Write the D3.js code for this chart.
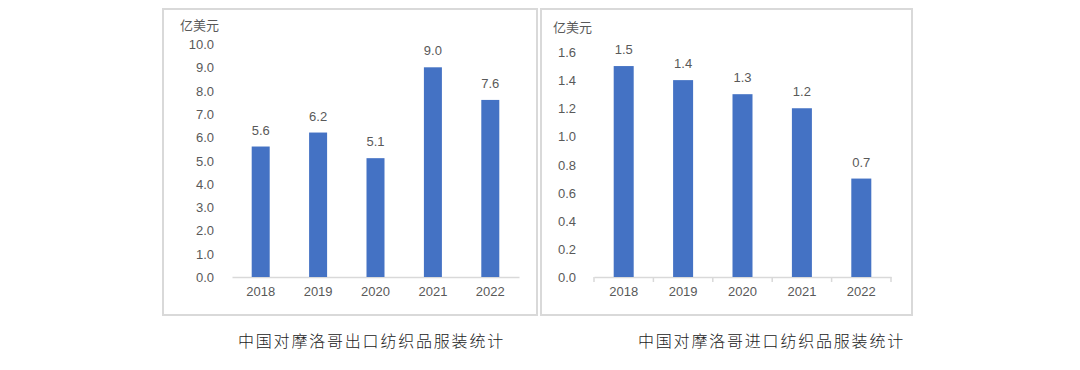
<!DOCTYPE html>
<html lang="zh">
<head>
<meta charset="UTF-8" />
<title>中国对摩洛哥纺织品服装统计</title>
<script src="https://d3js.org/d3.v7.min.js"></script>
<style>
  body { margin: 0; background: #fff; }
  text { font-family: "Liberation Sans", "Noto Sans CJK SC", sans-serif; }
  .cap { font-family: "Noto Sans CJK SC", sans-serif; font-weight: 300; }
</style>
</head>
<body>
<svg width="1080" height="370"></svg>
<script>
var years = ["2018", "2019", "2020", "2021", "2022"];
var exportVals = [5.6, 6.2, 5.1, 9.0, 7.6];
var importVals = [1.5, 1.4, 1.3, 1.2, 0.7];
var exportTicks = [0, 1, 2, 3, 4, 5, 6, 7, 8, 9, 10];
var importTicks = [0, 0.2, 0.4, 0.6, 0.8, 1.0, 1.2, 1.4, 1.6];
var unit = "亿美元";
var captions = ["中国对摩洛哥出口纺织品服装统计", "中国对摩洛哥进口纺织品服装统计"];

var svg = d3.select("svg");
var grey = "#595959", blue = "#4472c4";

function drawChart(opt) {
  // outer frame
  svg.append("rect")
    .attr("x", opt.box[0]).attr("y", 9)
    .attr("width", opt.box[1] - opt.box[0]).attr("height", 306)
    .attr("fill", "none").attr("stroke", "#d9d9d9").attr("stroke-width", 2);

  var x = d3.scaleBand().domain(years).range([opt.x0, opt.x1]).paddingInner(opt.pad).paddingOuter(opt.pad / 2);
  var y = d3.scaleLinear().domain([0, opt.max]).range([277, opt.yTop]);

  var g = svg.append("g");

  g.append("g")
    .attr("transform", "translate(" + (opt.x0 - 15) + ",0)")
    .call(d3.axisLeft(y).tickValues(opt.ticks).tickFormat(d3.format(".1f")).tickSize(0))
    .call(a => a.select(".domain").remove())
    .selectAll("text").attr("fill", grey).attr("font-size", 13).attr("dy", "0.35em");

  var xa = g.append("g")
    .attr("transform", "translate(0,277)")
    .call(d3.axisBottom(x).tickSize(0).tickPadding(10));
  xa.select(".domain").attr("stroke", "#d9d9d9").attr("stroke-width", 1.5);
  xa.selectAll("text").attr("fill", grey).attr("font-size", 13);

  if (opt.sepTicks) {
    var step = (opt.x1 - opt.x0) / years.length;
    g.selectAll(".sep").data(d3.range(years.length + 1)).enter().append("line")
      .attr("x1", i => opt.x0 + i * step).attr("x2", i => opt.x0 + i * step)
      .attr("y1", 277).attr("y2", 282)
      .attr("stroke", "#d9d9d9").attr("stroke-width", 1.5);
  }

  g.selectAll(".bar").data(opt.vals).enter().append("rect")
    .attr("x", (d, i) => x(years[i]) + (x.bandwidth() - opt.bw) / 2)
    .attr("y", d => y(d))
    .attr("width", opt.bw)
    .attr("height", d => 277 - y(d))
    .attr("fill", blue);

  g.selectAll(".lbl").data(opt.vals).enter().append("text")
    .attr("x", (d, i) => x(years[i]) + x.bandwidth() / 2)
    .attr("y", d => y(d) - 12)
    .attr("text-anchor", "middle")
    .attr("fill", grey).attr("font-size", 13)
    .text(d => d.toFixed(1));

  g.append("text")
    .attr("x", opt.unitX).attr("y", opt.unitY)
    .attr("fill", grey).attr("font-size", 13)
    .attr("font-family", "Noto Sans CJK SC")
    .text(unit);

  svg.append("text").attr("class", "cap")
    .attr("x", opt.capX).attr("y", 347)
    .attr("font-size", 16).attr("letter-spacing", 1.8)
    .attr("fill", "#222")
    .text(opt.caption);
}

drawChart({
  box: [163, 537], x0: 232, x1: 519, pad: 0.68, bw: 18,
  max: 10, yTop: 44, ticks: exportTicks, vals: exportVals,
  sepTicks: false, unitX: 180, unitY: 30, capX: 238, caption: captions[0]
});

drawChart({
  box: [541, 912], x0: 594, x1: 891, pad: 0.66, bw: 20,
  max: 1.6, yTop: 52, ticks: importTicks, vals: importVals,
  sepTicks: true, unitX: 553, unitY: 32, capX: 638, caption: captions[1]
});
</script>
</body>
</html>
